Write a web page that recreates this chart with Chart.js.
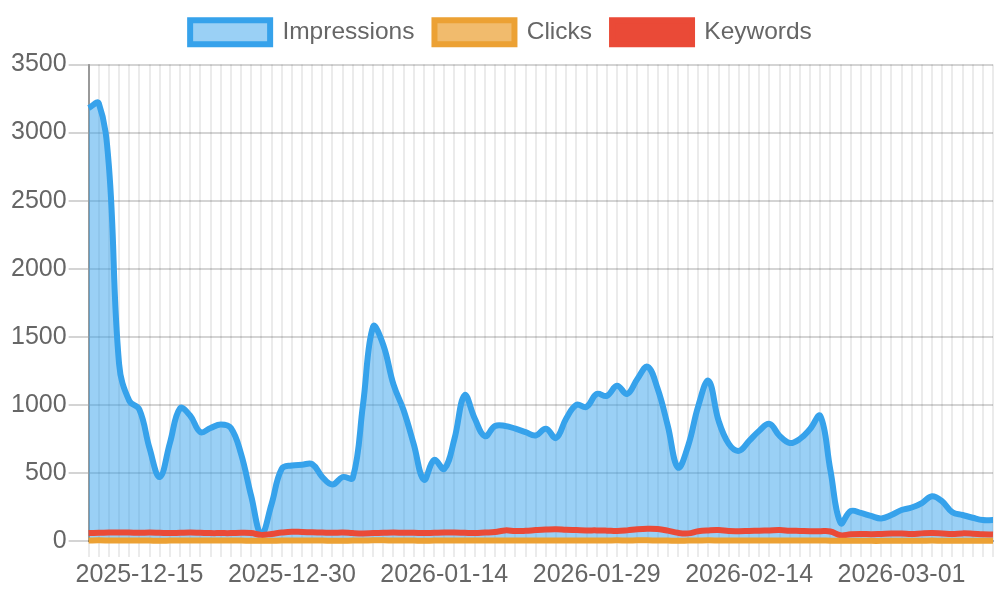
<!DOCTYPE html>
<html>
<head>
<meta charset="utf-8">
<script src="https://cdn.jsdelivr.net/npm/chart.js@4.4.1/dist/chart.umd.min.js"></script>
<style>
  html, body { margin: 0; padding: 0; background: #fff; }
  #wrap { width: 1000px; height: 600px; }
</style>
</head>
<body>
<div id="wrap"><canvas id="trafficChart"></canvas></div>
<script>
    const dates = [
        '2025-12-10', '2025-12-11', '2025-12-12', '2025-12-13', '2025-12-14', '2025-12-15', '2025-12-16', '2025-12-17', '2025-12-18', '2025-12-19',
        '2025-12-20', '2025-12-21', '2025-12-22', '2025-12-23', '2025-12-24', '2025-12-25', '2025-12-26', '2025-12-27', '2025-12-28', '2025-12-29',
        '2025-12-30', '2025-12-31', '2026-01-01', '2026-01-02', '2026-01-03', '2026-01-04', '2026-01-05', '2026-01-06', '2026-01-07', '2026-01-08',
        '2026-01-09', '2026-01-10', '2026-01-11', '2026-01-12', '2026-01-13', '2026-01-14', '2026-01-15', '2026-01-16', '2026-01-17', '2026-01-18',
        '2026-01-19', '2026-01-20', '2026-01-21', '2026-01-22', '2026-01-23', '2026-01-24', '2026-01-25', '2026-01-26', '2026-01-27', '2026-01-28',
        '2026-01-29', '2026-01-30', '2026-01-31', '2026-02-01', '2026-02-02', '2026-02-03', '2026-02-04', '2026-02-05', '2026-02-06', '2026-02-07',
        '2026-02-09', '2026-02-10', '2026-02-11', '2026-02-12', '2026-02-13', '2026-02-14', '2026-02-15', '2026-02-16', '2026-02-17', '2026-02-18',
        '2026-02-19', '2026-02-20', '2026-02-21', '2026-02-22', '2026-02-23', '2026-02-24', '2026-02-25', '2026-02-26', '2026-02-27', '2026-02-28',
        '2026-03-01', '2026-03-02', '2026-03-03', '2026-03-04', '2026-03-05', '2026-03-06', '2026-03-07', '2026-03-08', '2026-03-09', '2026-03-10'
    ];

    const impressions = [
        3180, 3215, 2750, 1300, 1030, 965, 680, 470, 720, 975,
        920, 800, 830, 855, 830, 640, 330, 50, 270, 530,
        555, 560, 565, 470, 415, 470, 465, 1000, 1575, 1440,
        1150, 960, 710, 450, 595, 530, 750, 1070, 900, 770,
        845, 845, 825, 800, 775, 825, 757, 900, 1000, 985,
        1080, 1066, 1140, 1080, 1190, 1280, 1118, 845, 540, 700,
        993, 1176, 882, 713, 662, 735, 810, 860, 772, 720,
        750, 823, 919, 520, 132, 220, 206, 184, 166, 191,
        228, 246, 279, 329, 291, 211, 191, 171, 154, 154
    ];

    const clicks = [
        4, 5, 4, 3, 3, 4, 3, 2, 3, 4,
        4, 3, 3, 4, 3, 3, 2, 1, 2, 3,
        3, 3, 3, 3, 2, 2, 3, 4, 5, 5,
        4, 4, 3, 2, 3, 3, 3, 4, 4, 3,
        3, 4, 3, 3, 3, 4, 3, 4, 4, 4,
        4, 4, 5, 4, 5, 5, 4, 3, 2, 3,
        4, 5, 4, 3, 3, 3, 4, 4, 3, 3,
        3, 4, 4, 2, 1, 2, 2, 1, 1, 2,
        2, 2, 2, 3, 2, 2, 2, 1, 1, 1
    ];

    const keywords = [
        58, 60, 62, 63, 62, 60, 62, 60, 58, 60,
        62, 60, 58, 58, 58, 60, 58, 45, 52, 62,
        68, 66, 64, 62, 60, 62, 58, 56, 58, 60,
        62, 60, 60, 58, 60, 62, 62, 60, 58, 62,
        66, 78, 73, 75, 80, 84, 86, 82, 80, 78,
        78, 76, 73, 78, 86, 90, 88, 76, 60, 56,
        72, 78, 80, 73, 72, 74, 76, 78, 80, 76,
        74, 72, 72, 70, 42, 50, 52, 50, 52, 55,
        55, 52, 56, 58, 55, 52, 56, 54, 50, 48
    ];

    const yStep = 500;
    const labelEvery = 15, labelOffset = 5;

    Chart.defaults.font.family = "'Liberation Sans', Arial, sans-serif";
    Chart.defaults.font.size = 25;
    Chart.defaults.color = '#666';

    // legend needs a bit more room below it
    const legendGap = {
        id: 'legendGap',
        beforeInit(chart) {
            const origFit = chart.legend.fit;
            chart.legend.fit = function fit() {
                origFit.bind(chart.legend)();
                this.height += 10;
            };
        }
    };

    const ctx = document.getElementById('trafficChart').getContext('2d');
    const trafficChart = new Chart(ctx, {
        type: 'line',
        data: {
            labels: dates,
            datasets: [
                { label: 'Impressions', data: impressions, order: 3, borderColor: '#36a2eb', backgroundColor: 'rgba(54, 162, 235, 0.5)', fill: 'origin', borderWidth: 6, tension: 0.4, pointRadius: 0 },
                { label: 'Clicks', data: clicks, order: 1, borderColor: '#eca134', backgroundColor: 'rgba(236, 161, 52, 0.72)', fill: 'origin', borderWidth: 6, tension: 0.4, pointRadius: 0 },
                { label: 'Keywords', data: keywords, order: 2, borderColor: '#ea4a37', backgroundColor: '#ea4a37', fill: false, borderWidth: 6, tension: 0.4, pointRadius: 0 }
            ]
        },
        options: {
            responsive: true, maintainAspectRatio: false, animation: false,
            layout: { padding: { left: 9, right: 7, bottom: 7 } },
            scales: {
                x: {
                    grid: { color: 'rgba(0, 0, 0, 0.08)', lineWidth: 2, tickLength: 16 },
                    border: { color: 'rgba(0, 0, 0, 0.35)', width: 2 },
                    ticks: {
                        autoSkip: false, maxRotation: 0, padding: 3,
                        callback: function (val, i) { return i % labelEvery === labelOffset ? this.getLabelForValue(val) : ''; }
                    }
                },
                y: {
                    grid: { color: 'rgba(0, 0, 0, 0.17)', lineWidth: 2, tickLength: 20 },
                    border: { color: 'rgba(0, 0, 0, 0.35)', width: 2 },
                    ticks: { stepSize: yStep, padding: 2, callback: v => String(v) }
                }
            },
            plugins: {
                legend: {
                    display: true, position: 'top',
                    labels: { boxWidth: 80, boxHeight: 24, padding: 20, font: { size: 24.5 }, sort: (a, b) => a.datasetIndex - b.datasetIndex }
                },
                tooltip: { enabled: false }
            }
        },
        plugins: [legendGap]
    });
</script>
</body>
</html>
